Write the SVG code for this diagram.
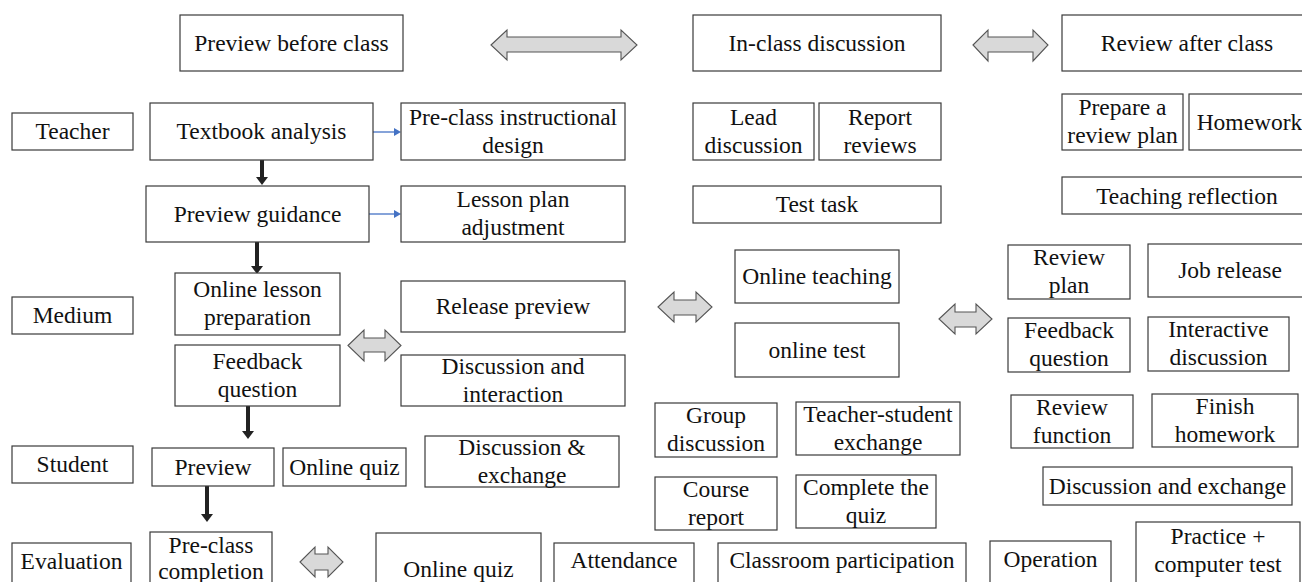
<svg xmlns="http://www.w3.org/2000/svg" width="1302" height="582" viewBox="0 0 1302 582">
<defs>
<style>
.b{fill:#fff;stroke:#3a3a3a;stroke-width:1.2}
.t{font-family:'Liberation Serif',Tinos,'Times New Roman','DejaVu Serif',serif;font-size:23.5px;fill:#111;text-anchor:middle}
.ba{stroke:#222;stroke-width:4;fill:none}
.bl{stroke:#4472C4;stroke-width:1.3;fill:none}
.da{fill:#d9d9d9;stroke:#555;stroke-width:1.1}
</style>
<marker id="hb" markerUnits="userSpaceOnUse" markerWidth="8" markerHeight="12" refX="0" refY="6" orient="auto"><path d="M0,0 L8,6 L0,12 z" fill="#222"/></marker>
<marker id="hl" markerUnits="userSpaceOnUse" markerWidth="7" markerHeight="8" refX="0" refY="4" orient="auto"><path d="M0,0 L7,4 L0,8 z" fill="#4472C4"/></marker>
</defs>
<rect width="1302" height="582" fill="#fff"/>

<g id="connectors">
<line class="ba" x1="262" y1="160" x2="262" y2="177" marker-end="url(#hb)"/>
<line class="ba" x1="257" y1="242" x2="257" y2="266" marker-end="url(#hb)"/>
<line class="ba" x1="248" y1="406" x2="248" y2="431" marker-end="url(#hb)"/>
<line class="ba" x1="207" y1="486" x2="207" y2="514" marker-end="url(#hb)"/>
<line class="bl" x1="373" y1="132" x2="394" y2="132" marker-end="url(#hl)"/>
<line class="bl" x1="369" y1="214" x2="394" y2="214" marker-end="url(#hl)"/>
<polygon class="da" points="491,45 507,30 507,37 621,37 621,30 637,45 621,60 621,52 507,52 507,60"/>
<polygon class="da" points="973,45 988,30 988,37 1033,37 1033,30 1048,45 1033,61 1033,52 988,52 988,61"/>
<polygon class="da" points="348,345.5 364,330 364,338 385,338 385,330 401,345.5 385,361 385,352 364,352 364,361"/>
<polygon class="da" points="658,307 674,292 674,300 696,300 696,292 712,307 696,322 696,315 674,315 674,322"/>
<polygon class="da" points="939,319 955,304 955,312 976,312 976,304 992,319 976,334 976,327 955,327 955,334"/>
<polygon class="da" points="300,562 315,547 315,554 328,554 328,547 343,562 328,577 328,570 315,570 315,577"/>
</g>

<g id="preview-before-class"><rect class="b" x="180" y="15" width="223" height="56"/><text class="t" x="291.5" y="50.5">Preview before class</text></g>
<g id="in-class-discussion"><rect class="b" x="693" y="15" width="248" height="56"/><text class="t" x="817" y="50.5">In-class discussion</text></g>
<g id="review-after-class"><rect class="b" x="1062" y="15" width="250" height="56"/><text class="t" x="1187" y="50.5">Review after class</text></g>

<g id="teacher"><rect class="b" x="12" y="113" width="121" height="37"/><text class="t" x="72.5" y="139">Teacher</text></g>
<g id="textbook-analysis"><rect class="b" x="150" y="103" width="223" height="57"/><text class="t" x="261.5" y="139">Textbook analysis</text></g>
<g id="pre-class-design"><rect class="b" x="401" y="103" width="224" height="57"/><text class="t" x="513" y="124.5">Pre-class instructional</text><text class="t" x="513" y="152.5">design</text></g>
<g id="lead-discussion"><rect class="b" x="693" y="103" width="121" height="57"/><text class="t" x="753.5" y="124.5">Lead</text><text class="t" x="753.5" y="152.5">discussion</text></g>
<g id="report-reviews"><rect class="b" x="819" y="103" width="122" height="57"/><text class="t" x="880" y="124.5">Report</text><text class="t" x="880" y="152.5">reviews</text></g>
<g id="prepare-review-plan"><rect class="b" x="1062" y="94" width="121" height="56"/><text class="t" x="1122.5" y="115">Prepare a</text><text class="t" x="1122.5" y="143">review plan</text></g>
<g id="homework"><rect class="b" x="1189" y="94" width="123" height="56"/><text class="t" x="1249.5" y="129.5">Homework</text></g>

<g id="preview-guidance"><rect class="b" x="146" y="186" width="223" height="56"/><text class="t" x="257.5" y="221.5">Preview guidance</text></g>
<g id="lesson-plan-adjustment"><rect class="b" x="401" y="186" width="224" height="56"/><text class="t" x="513" y="207">Lesson plan</text><text class="t" x="513" y="235">adjustment</text></g>
<g id="test-task"><rect class="b" x="693" y="186" width="248" height="37"/><text class="t" x="817" y="212">Test task</text></g>
<g id="teaching-reflection"><rect class="b" x="1062" y="177" width="250" height="37"/><text class="t" x="1187" y="203.5">Teaching reflection</text></g>

<g id="medium"><rect class="b" x="12" y="297" width="121" height="37"/><text class="t" x="72.5" y="323">Medium</text></g>
<g id="online-lesson-preparation"><rect class="b" x="175" y="273" width="165" height="62"/><text class="t" x="257.5" y="297">Online lesson</text><text class="t" x="257.5" y="325">preparation</text></g>
<g id="feedback-question-left"><rect class="b" x="175" y="345" width="165" height="61"/><text class="t" x="257.5" y="368.5">Feedback</text><text class="t" x="257.5" y="396.5">question</text></g>
<g id="release-preview"><rect class="b" x="401" y="281" width="224" height="51"/><text class="t" x="513" y="314">Release preview</text></g>
<g id="discussion-interaction"><rect class="b" x="401" y="355" width="224" height="51"/><text class="t" x="513" y="373.5">Discussion and</text><text class="t" x="513" y="401.5">interaction</text></g>
<g id="online-teaching"><rect class="b" x="735" y="250" width="164" height="53"/><text class="t" x="817" y="284">Online teaching</text></g>
<g id="online-test"><rect class="b" x="735" y="323" width="164" height="54"/><text class="t" x="817" y="357.5">online test</text></g>
<g id="review-plan"><rect class="b" x="1008" y="245" width="122" height="54"/><text class="t" x="1069" y="265">Review</text><text class="t" x="1069" y="293">plan</text></g>
<g id="job-release"><rect class="b" x="1148" y="244" width="164" height="53"/><text class="t" x="1230" y="278">Job release</text></g>
<g id="feedback-question-right"><rect class="b" x="1008" y="318" width="122" height="54"/><text class="t" x="1069" y="338">Feedback</text><text class="t" x="1069" y="366">question</text></g>
<g id="interactive-discussion"><rect class="b" x="1148" y="317" width="141" height="54"/><text class="t" x="1218.5" y="337">Interactive</text><text class="t" x="1218.5" y="365">discussion</text></g>

<g id="student"><rect class="b" x="12" y="446" width="121" height="37"/><text class="t" x="72.5" y="472">Student</text></g>
<g id="preview"><rect class="b" x="152" y="448" width="122" height="38"/><text class="t" x="213" y="474.5">Preview</text></g>
<g id="online-quiz-student"><rect class="b" x="283" y="448" width="123" height="38"/><text class="t" x="344.5" y="474.5">Online quiz</text></g>
<g id="discussion-exchange-student"><rect class="b" x="425" y="436" width="194" height="51"/><text class="t" x="522" y="454.5">Discussion &amp;</text><text class="t" x="522" y="482.5">exchange</text></g>
<g id="group-discussion"><rect class="b" x="655" y="403" width="122" height="54"/><text class="t" x="716" y="423">Group</text><text class="t" x="716" y="451">discussion</text></g>
<g id="teacher-student-exchange"><rect class="b" x="796" y="402" width="164" height="53"/><text class="t" x="878" y="421.5">Teacher-student</text><text class="t" x="878" y="449.5">exchange</text></g>
<g id="course-report"><rect class="b" x="655" y="477" width="122" height="53"/><text class="t" x="716" y="496.5">Course</text><text class="t" x="716" y="524.5">report</text></g>
<g id="complete-the-quiz"><rect class="b" x="796" y="475" width="140" height="53"/><text class="t" x="866" y="494.5">Complete the</text><text class="t" x="866" y="522.5">quiz</text></g>
<g id="review-function"><rect class="b" x="1011" y="395" width="122" height="53"/><text class="t" x="1072" y="414.5">Review</text><text class="t" x="1072" y="442.5">function</text></g>
<g id="finish-homework"><rect class="b" x="1152" y="394" width="146" height="53"/><text class="t" x="1225" y="413.5">Finish</text><text class="t" x="1225" y="441.5">homework</text></g>
<g id="discussion-exchange-review"><rect class="b" x="1043" y="467" width="249" height="38"/><text class="t" x="1167.5" y="493.5">Discussion and exchange</text></g>

<g id="evaluation"><rect class="b" x="12" y="543" width="119" height="47"/><text class="t" x="71.5" y="569">Evaluation</text></g>
<g id="pre-class-completion"><rect class="b" x="150" y="532" width="122" height="58"/><text class="t" x="211" y="553">Pre-class</text><text class="t" x="211" y="579">completion</text></g>
<g id="online-quiz-evaluation"><rect class="b" x="376" y="533" width="165" height="57"/><text class="t" x="458.5" y="577">Online quiz</text></g>
<g id="attendance"><rect class="b" x="554" y="543" width="140" height="47"/><text class="t" x="624" y="568">Attendance</text></g>
<g id="classroom-participation"><rect class="b" x="718" y="543" width="248" height="47"/><text class="t" x="842" y="568">Classroom participation</text></g>
<g id="operation"><rect class="b" x="990" y="541" width="121" height="49"/><text class="t" x="1050.5" y="567">Operation</text></g>
<g id="practice-computer-test"><rect class="b" x="1136" y="522" width="164" height="68"/><text class="t" x="1218" y="544">Practice +</text><text class="t" x="1218" y="572">computer test</text></g>
</svg>
